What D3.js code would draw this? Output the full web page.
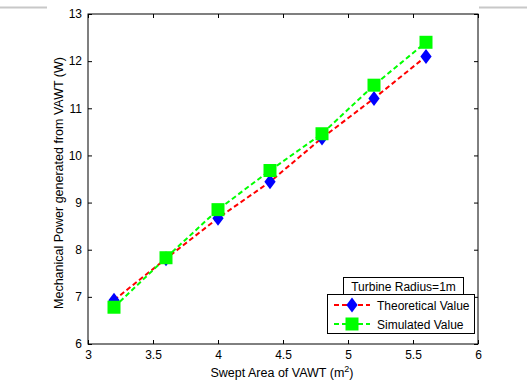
<!DOCTYPE html>
<html><head><meta charset="utf-8">
<script src="https://cdn.jsdelivr.net/npm/d3@7"></script>
<style>body{margin:0;background:#fff}svg{display:block;font-family:"Liberation Sans",Arial,sans-serif}</style>
</head><body><svg id="c" width="527" height="383"></svg>
<script>
const areas = [3.2, 3.6, 4.0, 4.4, 4.8, 5.2, 5.6];
const theoretical = [6.93, 7.81, 8.67, 9.44, 10.37, 11.21, 12.10];
const simulated = [6.78, 7.83, 8.85, 9.68, 10.46, 11.49, 12.40];
const xTicks = [3, 3.5, 4, 4.5, 5, 5.5, 6];
const yTicks = [6, 7, 8, 9, 10, 11, 12, 13];
const seriesNames = ["Theoretical Value", "Simulated Value"];
const legendTitle = "Turbine Radius=1m";

const svg = d3.select("#c");
const L = 88, R = 478, T = 14, B = 344;
const x = d3.scaleLinear().domain([3, 6]).range([L, R]);
const y = d3.scaleLinear().domain([6, 13]).range([B, T]);

svg.append("line").attr("x1",0).attr("x2",47).attr("y1",7.5).attr("y2",7.5).attr("stroke","#c8c8c8").attr("stroke-width",2);
svg.append("line").attr("x1",479).attr("x2",527).attr("y1",7.5).attr("y2",7.5).attr("stroke","#c8c8c8").attr("stroke-width",2);

const fs = "12px";
const ax = (g) => { g.selectAll(".domain").remove(); g.selectAll("text").attr("font-size", fs).attr("fill","#000").attr("font-family","Liberation Sans, Arial, sans-serif"); g.selectAll("line").attr("stroke","#000"); };
svg.append("g").attr("transform",`translate(0,${B})`).call(d3.axisBottom(x).tickValues(xTicks).tickSize(-4).tickPadding(6).tickFormat(d3.format("~g"))).call(ax);
svg.append("g").attr("transform",`translate(0,${T})`).call(d3.axisTop(x).tickValues(xTicks).tickSize(-4).tickFormat("")).call(ax);
svg.append("g").attr("transform",`translate(${L},0)`).call(d3.axisLeft(y).tickValues(yTicks).tickSize(-4).tickPadding(6).tickFormat(d3.format("~g"))).call(ax);
svg.append("g").attr("transform",`translate(${R},0)`).call(d3.axisRight(y).tickValues(yTicks).tickSize(-4).tickFormat("")).call(ax);
svg.append("rect").attr("x",L).attr("y",T).attr("width",R-L).attr("height",B-T).attr("fill","none").attr("stroke","#000").attr("stroke-width",1);

const line = d3.line().x((d,i)=>x(areas[i])).y(d=>y(d));
svg.append("path").datum(theoretical).attr("d",line).attr("fill","none").attr("stroke","#ff0000").attr("stroke-width",2).attr("stroke-dasharray","5,3");
svg.append("path").datum(simulated).attr("d",line).attr("fill","none").attr("stroke","#00ff00").attr("stroke-width",2).attr("stroke-dasharray","5,3");

const diamond = (cx, cy, r) => `M${cx},${cy-r}L${cx+r*0.75},${cy}L${cx},${cy+r}L${cx-r*0.75},${cy}Z`;
svg.append("g").selectAll("path").data(theoretical).join("path")
  .attr("d",(d,i)=>diamond(x(areas[i]), y(d), 7.5)).attr("fill","#0000ff");
svg.append("g").selectAll("rect").data(simulated).join("rect")
  .attr("x",(d,i)=>x(areas[i])-6.5).attr("y",d=>y(d)-6.5).attr("width",13).attr("height",13).attr("fill","#00ff00");

// legend
svg.append("rect").attr("x",343.5).attr("y",277.5).attr("width",120).attr("height",17).attr("fill","#fff").attr("stroke","#000");
svg.append("text").attr("x",403.5).attr("y",290.5).attr("text-anchor","middle").attr("font-size",fs).text(legendTitle);
svg.append("rect").attr("x",327.5).attr("y",294.5).attr("width",147).attr("height",39).attr("fill","#fff").attr("stroke","#000");
const cols = ["#ff0000","#00ff00"];
seriesNames.forEach((n,i)=>{
  const cy = 305 + i*19;
  svg.append("line").attr("x1",334).attr("x2",370).attr("y1",cy).attr("y2",cy).attr("stroke",cols[i]).attr("stroke-width",2).attr("stroke-dasharray","5,3");
  if(i===0) svg.append("path").attr("d",diamond(352,cy,7.5)).attr("fill","#0000ff");
  else svg.append("rect").attr("x",345.5).attr("y",cy-6.5).attr("width",13).attr("height",13).attr("fill","#00ff00");
  svg.append("text").attr("x",377).attr("y",cy+4.5).attr("font-size",fs).text(n);
});

svg.append("text").attr("x",282).attr("y",377).attr("text-anchor","middle").attr("font-size","12.5px")
  .html('Swept Area of VAWT (m<tspan dy="-5" font-size="9px">2</tspan><tspan dy="5">)</tspan>');
svg.append("text").attr("transform",`translate(63,${183}) rotate(-90)`).attr("text-anchor","middle").attr("font-size","12.5px")
  .text("Mechanical Power generated from VAWT (W)");
</script></body></html>
